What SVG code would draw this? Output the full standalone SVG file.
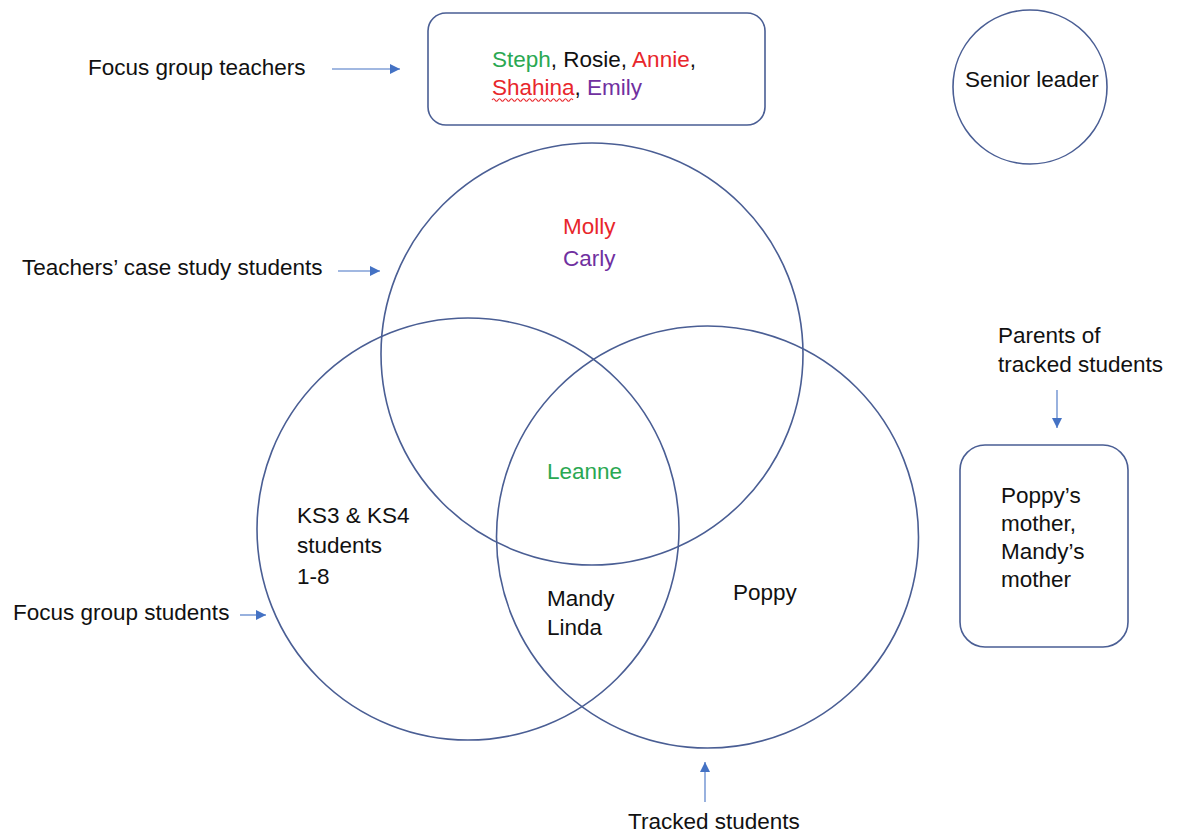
<svg xmlns="http://www.w3.org/2000/svg" width="1182" height="833" viewBox="0 0 1182 833">
<style>
.t{font-family:"Liberation Sans",Arial,sans-serif;font-size:22.5px;fill:#111111}
.shape{fill:none;stroke:#4a5e94;stroke-width:1.6}
.conn{stroke:#4472c4;stroke-width:1.1;fill:none}
.g{fill:#2aa852}.r{fill:#e8262b}.p{fill:#7030a0}.k{fill:#111111}
</style>
<defs>
<marker id="ah" viewBox="0 0 10 10" refX="10" refY="5" markerWidth="10" markerHeight="10" markerUnits="userSpaceOnUse" orient="auto">
<path d="M0,0 L10,5 L0,10 Z" fill="#4472c4"/>
</marker>
</defs>
<rect width="1182" height="833" fill="#ffffff"/>

<g id="focus-group-teachers">
<rect class="shape" x="428" y="13" width="337" height="112" rx="18"/>
<text class="t" x="492" y="67"><tspan class="g">Steph</tspan><tspan class="k">, Rosie, </tspan><tspan class="r">Annie</tspan><tspan class="k">,</tspan></text>
<text class="t" x="492" y="95"><tspan class="r">Shahina</tspan><tspan class="k">, </tspan><tspan class="p">Emily</tspan></text>
<path d="M492,100 q1.5,-2.5 3,0 t3,0 t3,0 t3,0 t3,0 t3,0 t3,0 t3,0 t3,0 t3,0 t3,0 t3,0 t3,0 t3,0 t3,0 t3,0 t3,0 t3,0 t3,0 t3,0 t3,0 t3,0 t3,0 t3,0 t3,0 t3,0 t3,0" fill="none" stroke="#e8262b" stroke-width="1.1"/>
</g>

<g id="senior-leader">
<circle class="shape" cx="1030" cy="87" r="77"/>
<text class="t" x="965" y="87">Senior leader</text>
</g>

<g id="case-study-students">
<circle class="shape" cx="592" cy="354" r="211"/>
<text class="t r" x="563" y="234">Molly</text>
<text class="t p" x="563" y="266">Carly</text>
</g>

<g id="focus-group-students">
<circle class="shape" cx="468" cy="529" r="211"/>
<text class="t" x="297" y="523">KS3 &amp; KS4</text>
<text class="t" x="297" y="553">students</text>
<text class="t" x="297" y="584">1-8</text>
</g>

<g id="tracked-students">
<circle class="shape" cx="707.5" cy="537" r="211"/>
<text class="t" x="733" y="600">Poppy</text>
</g>

<g id="overlaps">
<text class="t g" x="547" y="479">Leanne</text>
<text class="t" x="547" y="606">Mandy</text>
<text class="t" x="547" y="635">Linda</text>
</g>

<g id="parents">
<rect class="shape" x="960" y="445" width="168" height="202" rx="25"/>
<text class="t" x="1001" y="503">Poppy’s</text>
<text class="t" x="1001" y="531">mother,</text>
<text class="t" x="1001" y="559">Mandy’s</text>
<text class="t" x="1001" y="587">mother</text>
</g>

<g id="labels">
<text class="t" x="88" y="75">Focus group teachers</text>
<text class="t" x="22" y="275">Teachers’ case study students</text>
<text class="t" x="13" y="620">Focus group students</text>
<text class="t" x="998" y="343">Parents of</text>
<text class="t" x="998" y="372">tracked students</text>
<text class="t" x="628" y="829">Tracked students</text>
</g>

<g id="connectors">
<line class="conn" x1="332" y1="69" x2="400" y2="69" marker-end="url(#ah)"/>
<line class="conn" x1="338" y1="271" x2="380" y2="271" marker-end="url(#ah)"/>
<line class="conn" x1="240" y1="615" x2="266" y2="615" marker-end="url(#ah)"/>
<line class="conn" x1="1057" y1="390" x2="1057" y2="428" marker-end="url(#ah)"/>
<line class="conn" x1="705" y1="802" x2="705" y2="762" marker-end="url(#ah)"/>
</g>
</svg>
